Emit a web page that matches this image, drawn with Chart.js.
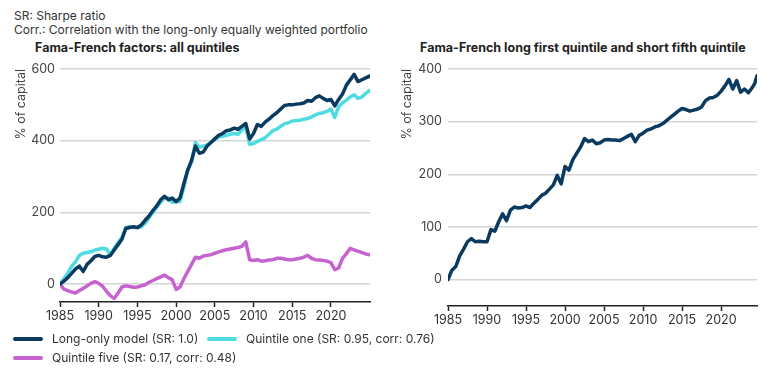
<!DOCTYPE html>
<html><head><meta charset="utf-8">
<script src="https://cdn.jsdelivr.net/npm/chart.js@4.4.1/dist/chart.umd.min.js"></script>
<style>
body{margin:0;width:770px;height:373px;background:#fff;font-family:Inter,"Open Sans",sans-serif;color:#333;position:relative;overflow:hidden}
.note{position:absolute;left:14px;font-size:12px;line-height:14px;white-space:nowrap}
.ttl{position:absolute;font-weight:700;font-size:12.5px;color:#222;white-space:nowrap;line-height:14px}
.cv{position:absolute}
.leg{position:absolute;font-size:12px;display:flex;align-items:center;white-space:nowrap;line-height:14px}
.leg i{display:inline-block;width:30px;height:4px;border-radius:2px;margin-right:9px}
</style></head><body>
<div id="n1" class="note" style="top:9px"></div>
<div id="n2" class="note" style="top:23px"></div>
<div id="t1" class="ttl" style="left:35px;top:41px"></div>
<div id="t2" class="ttl" style="left:420px;top:41px"></div>
<canvas id="c1" class="cv" style="left:0;top:55px" width="385" height="280"></canvas>
<canvas id="c2" class="cv" style="left:390px;top:55px" width="380" height="280"></canvas>
<div id="leg"></div>
<script>
const noteLines = ["SR: Sharpe ratio", "Corr.: Correlation with the long-only equally weighted portfolio"];
const leftTitle = "Fama-French factors: all quintiles";
const rightTitle = "Fama-French long first quintile and short fifth quintile";
const yAxisTitle = "% of capital";
const seriesLabels = ["Long-only model (SR: 1.0)", "Quintile one (SR: 0.95, corr: 0.76)", "Quintile five (SR: 0.17, corr: 0.48)"];
const seriesColors = ["#0a3a60", "#4edbe2", "#c663d0"];
const xTickYears = [1985, 1990, 1995, 2000, 2005, 2010, 2015, 2020];
const leftYTicks = [0, 200, 400, 600];
const rightYTicks = [0, 100, 200, 300, 400];

const yearsLeft = [1985.0,1985.5,1986.0,1986.5,1987.0,1987.5,1988.0,1988.5,1989.0,1989.5,
1990.0,1990.5,1991.0,1991.5,1992.0,1992.5,1993.0,1993.5,1994.0,1994.5,
1995.0,1995.5,1996.0,1996.5,1997.0,1997.5,1998.0,1998.5,1999.0,1999.5,
2000.0,2000.5,2001.0,2001.5,2002.0,2002.5,2003.0,2003.5,2004.0,2004.5,
2005.0,2005.5,2006.0,2006.5,2007.0,2007.5,2008.0,2008.5,2009.0,2009.5,
2010.0,2010.5,2011.0,2011.5,2012.0,2012.5,2013.0,2013.5,2014.0,2014.5,
2015.0,2015.5,2016.0,2016.5,2017.0,2017.5,2018.0,2018.5,2019.0,2019.5,
2020.0,2020.5,2021.0,2021.5,2022.0,2022.5,2023.0,2023.5,2024.0,2024.5,2025.0];

const longOnly = [0,8,18,30,42,50,35,55,65,77,
80,76,75,80,95,110,125,155,158,160,
158,165,178,190,205,218,235,245,235,240,
230,240,280,318,345,385,365,368,385,395,
405,415,420,428,430,435,432,440,448,405,
420,445,440,452,460,470,478,488,498,500,
500,502,503,505,512,510,520,525,518,512,
515,497,515,530,555,570,585,565,570,575,580];

const quintileOne = [0,15,30,50,62,80,86,88,90,95,
97,100,98,82,100,115,130,158,160,158,
157,160,170,185,200,215,228,240,240,228,
232,230,270,318,340,395,382,385,388,395,
405,410,412,415,418,420,418,430,440,390,
392,398,403,408,418,428,432,440,447,450,
455,456,457,460,462,466,472,476,478,482,
488,465,495,505,513,522,528,518,522,532,540];

const quintileFive = [0,-14,-18,-22,-25,-18,-12,-5,2,7,
2,-6,-20,-32,-40,-25,-8,-5,-7,-9,
-8,-5,-2,5,10,15,20,25,18,12,
-15,-8,15,35,55,75,72,78,80,82,
86,90,93,96,98,100,102,105,118,68,
66,68,64,65,67,68,72,72,70,68,
68,70,72,75,80,72,68,67,66,64,
60,40,45,72,85,100,95,92,88,84,82];

const yearsRight = [1985.0,1985.5,1986.0,1986.5,1987.0,1987.5,1988.0,1988.5,1989.0,1989.5,
1990.0,1990.5,1991.0,1991.5,1992.0,1992.5,1993.0,1993.5,1994.0,1994.5,
1995.0,1995.5,1996.0,1996.5,1997.0,1997.5,1998.0,1998.5,1999.0,1999.5,
2000.0,2000.5,2001.0,2001.5,2002.0,2002.5,2003.0,2003.5,2004.0,2004.5,
2005.0,2005.5,2006.0,2006.5,2007.0,2007.5,2008.0,2008.5,2009.0,2009.5,
2010.0,2010.5,2011.0,2011.5,2012.0,2012.5,2013.0,2013.5,2014.0,2014.5,
2015.0,2015.5,2016.0,2016.5,2017.0,2017.5,2018.0,2018.5,2019.0,2019.5,
2020.0,2020.5,2021.0,2021.5,2022.0,2022.5,2023.0,2023.5,2024.0,2024.3,2024.6];

const longShort = [0,18,25,45,58,72,78,72,73,72,
72,95,92,110,125,112,132,138,136,137,
140,137,145,152,160,164,172,180,198,182,
215,208,228,240,252,268,262,265,258,260,
265,266,265,265,264,268,272,276,262,274,
278,284,286,290,292,296,302,308,314,320,
325,323,320,322,324,328,340,345,346,350,
358,368,380,362,378,356,362,355,365,372,387];

document.getElementById('n1').textContent = noteLines[0];
document.getElementById('n2').textContent = noteLines[1];
document.getElementById('t1').textContent = leftTitle;
document.getElementById('t2').textContent = rightTitle;

const legPos = [{l:13,t:332},{l:207,t:332},{l:13,t:351}];
const legDiv = document.getElementById('leg');
seriesLabels.forEach((lab,i)=>{
  const d = document.createElement('div');
  d.className='leg'; d.style.left=legPos[i].l+'px'; d.style.top=legPos[i].t+'px';
  const sw = document.createElement('i'); sw.style.background=seriesColors[i];
  d.appendChild(sw); d.appendChild(document.createTextNode(lab));
  legDiv.appendChild(d);
});

const FONT = {family:'Inter, "Open Sans", sans-serif', size:12.5};
function pts(xs, ys){ return xs.map((x,i)=>({x:x, y:ys[i]})); }

function makeOpts(xMax, yTicks, yMin, yMax, yWidth, padTop, padRight, xHeight, padBottom, titlePad, tickPad){
  return {
    animation:false, responsive:false, devicePixelRatio:1,
    layout:{padding:{top:padTop,right:padRight,bottom:padBottom,left:0}},
    plugins:{legend:{display:false}, tooltip:{enabled:false}},
    elements:{point:{radius:0}, line:{borderWidth:3.5, tension:0, borderCapStyle:'round', borderJoinStyle:'round'}},
    scales:{
      x:{type:'linear', min:1985, max:xMax,
        afterBuildTicks:(s)=>{ s.ticks = xTickYears.map(v=>({value:v})); },
        afterFit:(s)=>{ s.height = xHeight; },
        ticks:{font:FONT, color:'#333', padding:2, maxRotation:0, autoSkip:false, callback:(v)=>String(v)},
        grid:{display:true, drawOnChartArea:false, drawTicks:true, tickLength:5, tickWidth:1.5, tickColor:'#222'},
        border:{display:true, color:'#222', width:1.5}
      },
      y:{type:'linear', min:yMin, max:yMax,
        afterBuildTicks:(s)=>{ s.ticks = yTicks.map(v=>({value:v})); },
        afterFit:(s)=>{ s.width = yWidth; },
        ticks:{font:FONT, color:'#444', padding:tickPad, callback:(v)=>String(v)},
        grid:{color:'#d4d4d4', lineWidth:1.5, drawTicks:false},
        border:{display:false},
        title:{display:true, text:yAxisTitle, font:FONT, color:'#444', align:'end', padding:{top:titlePad,bottom:0}}
      }
    }
  };
}

new Chart(document.getElementById('c1'), {
  type:'line',
  data:{datasets:[
    {label:seriesLabels[0], data:pts(yearsLeft,longOnly), borderColor:seriesColors[0]},
    {label:seriesLabels[1], data:pts(yearsLeft,quintileOne), borderColor:seriesColors[1]},
    {label:seriesLabels[2], data:pts(yearsLeft,quintileFive), borderColor:seriesColors[2]}
  ]},
  options: makeOpts(2025.05, leftYTicks, -50, 600, 60, 14, 15, 30, 3, 14, 5)
});

new Chart(document.getElementById('c2'), {
  type:'line',
  data:{datasets:[
    {label:"Long first quintile, short fifth quintile", data:pts(yearsRight,longShort), borderColor:seriesColors[0]}
  ]},
  options: makeOpts(2024.6, rightYTicks, -50, 400, 58, 14, 13, 28, 1, 10, 6)
});
</script>
</body></html>
